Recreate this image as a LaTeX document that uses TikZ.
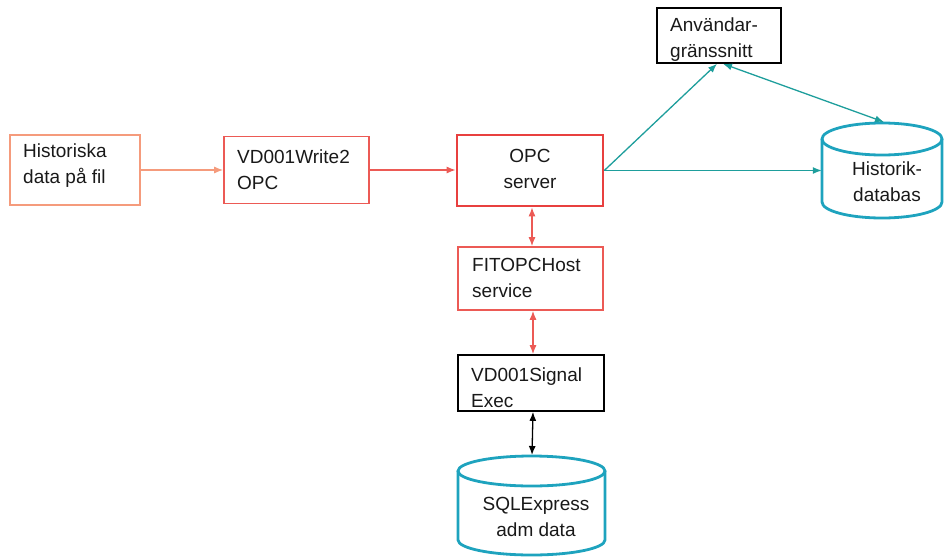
\documentclass[tikz,border=0pt]{standalone}
\usepackage{fontspec}
\setmainfont{Liberation Sans}
\usetikzlibrary{arrows.meta,calc}
\definecolor{salmon}{HTML}{F59B7C}
\definecolor{redA}{HTML}{EC5A55}
\definecolor{redB}{HTML}{E8403F}
\definecolor{tealA}{HTML}{1E9E9C}
\definecolor{cylc}{HTML}{1EA3BE}
\tikzset{
  box/.style={draw, rectangle, inner sep=0pt, line width=1.6pt},
  txt/.style={inner sep=0pt, align=left, font={\fontsize{19}{26}\selectfont}, text=black!90},
  ctxt/.style={inner sep=0pt, align=center, font={\fontsize{19}{26}\selectfont}, text=black!90},
  arr/.style={line width=1.3pt, -{Latex[length=9pt,width=7pt]}},
  darr/.style={line width=1.3pt, {Latex[length=9pt,width=7pt]}-{Latex[length=9pt,width=7pt]}},
  cyl/.style={draw=cylc, line width=2.8pt},
}
\begin{document}
\begin{tikzpicture}[x=1pt,y=-1pt]
\useasboundingbox (0,0) rectangle (944,557);
% boxes
\node[box, draw=salmon, minimum width=130pt, minimum height=70pt] (hist) at (75,170) {};
\node[box, draw=redA, minimum width=145pt, minimum height=67pt] (write) at (296.5,170) {};
\node[box, draw=redB, line width=2.6pt, minimum width=146pt, minimum height=71pt] (opc) at (530,170.5) {};
\node[box, draw=redA, minimum width=145pt, minimum height=63pt] (fit) at (530.5,278.5) {};
\node[box, draw=black, minimum width=146pt, minimum height=56pt] (sig) at (531,383) {};
\node[box, draw=black, minimum width=124pt, minimum height=55pt] (anv) at (719,35.5) {};
% texts
\node[txt, anchor=west] (t1) at (23,165.5) {Historiska\\data på fil};
\node[txt, anchor=west] (t2) at (237,169.5) {VD001Write2\\OPC};
\node[ctxt] (t3) at (530,168.5) {OPC\\server};
\node[txt, anchor=west] (t4) at (472,277.5) {FITOPCHost\\service};
\node[txt, anchor=west] (t5) at (471,387.5) {VD001Signal\\Exec};
\node[txt, anchor=west] (t6) at (670,39.5) {Användar-\\gränssnitt};
% cylinders
\node[minimum width=147pt, minimum height=100pt, inner sep=0pt] (sql) at (531.5,505) {};
\draw[cyl] (458,471) -- (458,540) arc[start angle=180, end angle=0, x radius=73.5, y radius=15] -- (605,471);
\draw[cyl] (531.5,471) ellipse[x radius=73.5, y radius=15];
\node[ctxt] (t7) at (536,517) {SQLExpress\\adm data};
\node[minimum width=120pt, minimum height=95pt, inner sep=0pt] (hdb) at (882,170.5) {};
\draw[cyl] (822,139) -- (822,202) arc[start angle=180, end angle=0, x radius=60, y radius=16] -- (942,139);
\draw[cyl] (882,139) ellipse[x radius=60, y radius=16];
\node[ctxt] (t8) at (887,181.5) {Historik-\\databas};
\coordinate (hdbtop) at (884,122);
\coordinate (sqltop) at (532,455);
% connectors
\draw[arr, salmon] (hist.east) -- (write.west);
\draw[arr, redA] (write.east) -- (write.east -| opc.west);
\draw[darr, redA] (opc.south -| 532,0) -- (fit.north -| 532,0);
\draw[darr, redA] (fit.south -| 533,0) -- (sig.north -| 533,0);
\draw[darr, black] (sig.south -| 533,0) -- (sqltop);
\draw[arr, tealA] (opc.east) -- ($(anv.south)+(-2,0)$);
\draw[arr, tealA] (opc.east) -- (opc.east -| hdb.west);
\draw[darr, tealA] ($(anv.south)+(4,0)$) -- (hdbtop);
\end{tikzpicture}
\end{document}
